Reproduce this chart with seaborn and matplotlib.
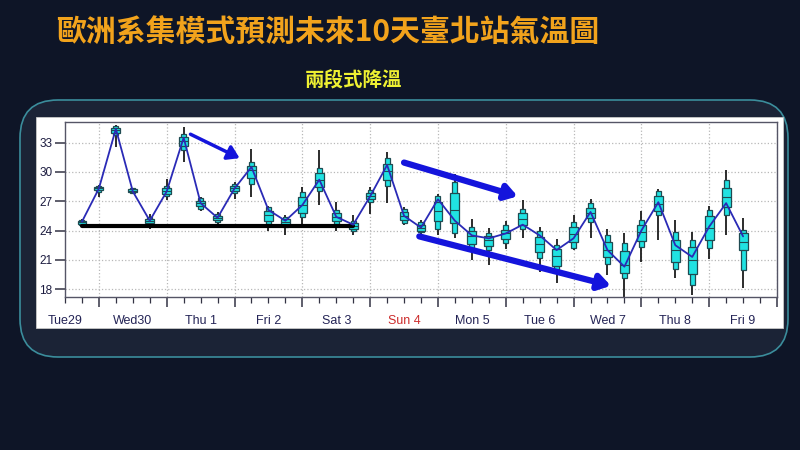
import numpy as np
import pandas as pd
import seaborn as sns
import matplotlib
matplotlib.use("Agg")
from matplotlib import pyplot as plt
from matplotlib.patches import FancyBboxPatch, Rectangle

# ensemble temperature forecast, one box every 6 hours (Tue29 18:00 .. Fri 9 12:00)
t_min = [24.5, 27.4, 32.5, 27.7, 24.2, 27.1, 31.0, 26.0, 24.7, 27.2,
         27.4, 24.0, 23.5, 24.5, 26.6, 24.0, 23.5, 25.7, 26.8, 24.6,
         23.5, 23.5, 23.2, 21.0, 20.5, 22.1, 23.2, 19.8, 18.6, 22.0,
         23.2, 19.4, 17.2, 20.8, 23.0, 19.1, 17.4, 21.1, 23.5, 18.1]
t_p10 = [24.6, 27.9, 33.8, 27.8, 24.7, 27.5, 32.2, 26.2, 24.9, 27.8,
         28.8, 24.7, 24.4, 25.4, 28.0, 24.7, 23.9, 26.9, 28.6, 24.8,
         23.8, 24.2, 23.7, 22.1, 22.0, 22.7, 24.2, 21.2, 19.8, 22.2,
         24.9, 20.6, 19.1, 22.3, 25.6, 20.1, 18.4, 22.2, 25.6, 20.0]
t_p25 = [24.7, 28.1, 34.0, 27.9, 24.8, 27.7, 32.6, 26.5, 25.1, 28.0,
         29.4, 25.0, 24.6, 25.8, 28.5, 25.0, 24.2, 27.2, 29.2, 25.1,
         24.0, 25.0, 24.8, 22.6, 22.4, 23.1, 24.6, 21.8, 20.4, 22.8,
         25.3, 21.3, 19.7, 22.9, 26.0, 20.8, 19.6, 23.0, 26.4, 22.0]
t_med = [24.9, 28.3, 34.3, 28.0, 25.0, 28.0, 33.2, 26.8, 25.3, 28.3,
         30.2, 25.6, 24.9, 26.6, 29.2, 25.4, 24.5, 27.5, 30.1, 25.5,
         24.3, 26.0, 26.1, 23.4, 23.0, 23.7, 25.2, 22.6, 21.4, 23.6,
         25.8, 22.0, 20.5, 23.8, 26.7, 22.0, 21.0, 24.3, 27.4, 22.8]
t_p75 = [25.0, 28.5, 34.5, 28.2, 25.2, 28.3, 33.6, 27.0, 25.5, 28.6,
         30.6, 26.0, 25.2, 27.4, 29.9, 25.8, 24.8, 27.8, 30.8, 25.9,
         24.6, 26.9, 27.8, 23.9, 23.4, 24.1, 25.8, 23.3, 22.1, 24.4,
         26.3, 22.8, 21.9, 24.6, 27.5, 23.0, 22.3, 25.5, 28.4, 23.7]
t_p90 = [25.1, 28.6, 34.7, 28.3, 25.4, 28.6, 33.9, 27.3, 25.7, 28.8,
         31.0, 26.4, 25.4, 27.9, 30.4, 26.1, 25.0, 28.1, 31.4, 26.2,
         24.9, 27.5, 29.0, 24.4, 23.7, 24.6, 26.2, 23.9, 22.5, 24.9,
         26.8, 23.5, 22.7, 25.1, 28.0, 23.8, 23.0, 26.1, 29.2, 24.1]
t_max = [25.2, 28.7, 34.8, 28.4, 25.7, 29.3, 34.6, 27.4, 25.9, 29.0,
         32.3, 26.5, 25.6, 28.5, 32.2, 26.9, 25.6, 28.5, 32.0, 26.4,
         25.1, 27.7, 29.8, 25.2, 24.3, 25.0, 27.1, 24.4, 23.1, 25.6,
         27.2, 24.2, 23.7, 26.0, 28.2, 25.1, 23.8, 26.5, 30.2, 25.3]
t_line = [24.9, 28.3, 34.4, 28.0, 25.0, 28.0, 33.5, 26.8, 25.3, 28.3,
          30.5, 26.1, 25.0, 26.6, 29.2, 25.4, 24.6, 27.5, 30.7, 25.5,
          24.3, 27.2, 25.0, 23.5, 23.2, 23.7, 24.6, 23.5, 22.0, 23.2,
          25.9, 22.0, 20.3, 24.0, 26.9, 22.5, 21.3, 24.4, 26.8, 23.4]

day_labels = ["Tue29", "Wed30", "Thu 1", "Fri 2", "Sat 3", "Sun 4",
              "Mon 5", "Tue 6", "Wed 7", "Thu 8", "Fri 9"]
y_ticks = [18, 21, 24, 27, 30, 33]

# flat "floor" of the first stage, and the three hand-drawn arrows
base_x = [0, 16]
base_y = [24.5, 24.5]
arrows = [((6.4, 33.85), (9.3, 31.4), 2.5),
          ((19.0, 30.95), (25.7, 27.5), 4.5),
          ((19.9, 23.4), (31.2, 18.35), 4.5)]

df = pd.DataFrame({"step": np.arange(len(t_line)), "temp": t_line})

sns.set_style("ticks")
plt.rcParams["font.family"] = ["Liberation Sans Narrow", "Liberation Sans", "DejaVu Sans"]

W, H = 800, 450
fig = plt.figure(figsize=(8, 4.5), dpi=100, facecolor="#0e1527")

# rounded frame + white panel (kept behind the axes)
fig.patches.append(FancyBboxPatch((0.20, 0.93), 7.68, 2.57,
                                  boxstyle="round,pad=0,rounding_size=0.38",
                                  transform=fig.dpi_scale_trans, zorder=-5,
                                  facecolor="#1b2336", edgecolor="#3b8d9c", lw=1.2))
fig.patches.append(Rectangle((36 / W, 1 - 328 / H), 747 / W, 211 / H,
                             transform=fig.transFigure, facecolor="white", zorder=-4,
                             edgecolor="#c8c8c8", lw=0.6))

fig.text(56 / W, 1 - 33 / H, "歐洲系集模式預測未來10天臺北站氣溫圖",
         color="#f2a31c", fontsize=21.5, va="center", ha="left", fontweight="bold",
         family=["Noto Sans CJK TC", "DejaVu Sans"])
fig.text(354 / W, 1 - 81 / H, "兩段式降溫", color="#eef032", fontsize=14,
         va="center", ha="center", fontweight="bold",
         family=["Noto Sans CJK TC", "DejaVu Sans"])

ax = fig.add_axes([65 / W, 1 - 297 / H, 712 / W, 175 / H])
ax.set_zorder(5)
ax.set_facecolor("white")

x = df["step"].to_numpy()
lo10, hi90 = np.array(t_p10), np.array(t_p90)
lo25, hi75 = np.array(t_p25), np.array(t_p75)

ax.vlines(x, t_min, t_max, color="#1b1b1b", lw=1.3, zorder=2)
ax.bar(x, hi90 - lo10, bottom=lo10, width=0.3, color="#20e2e2",
       edgecolor="#1f4b52", linewidth=0.9, zorder=3)
ax.bar(x, hi75 - lo25, bottom=lo25, width=0.52, color="#20e2e2",
       edgecolor="#1f4b52", linewidth=0.9, zorder=4)
ax.hlines(t_med, x - 0.26, x + 0.26, color="#1f4b52", lw=0.8, zorder=5)

sns.lineplot(x=base_x, y=base_y, ax=ax, color="black", lw=3, zorder=6)
sns.lineplot(data=df, x="step", y="temp", ax=ax, color="#2a2ab6", lw=1.3, zorder=7)

for start, end, w in arrows:
    ax.annotate("", xy=end, xytext=start, zorder=8,
                arrowprops=dict(arrowstyle="-|>,head_length=0.7,head_width=0.45",
                                color="#1414dc", lw=w, shrinkA=0, shrinkB=0))

ax.set_xlim(-1, 41)
ax.set_ylim(17.2, 35.1)
ax.set_yticks(y_ticks)
ax.set_xticks(np.arange(1, 42, 4))
ax.set_xticks(np.arange(-1, 42, 1), minor=True)
ax.set_xticklabels([])
ax.grid(True, which="major", color="#b8b8b8", ls=":", lw=0.9)
ax.set_xlabel("")
ax.set_ylabel("")
ax.tick_params(axis="y", length=7, width=1.1, color="#333344", labelsize=8.5,
               labelcolor="#1c1c40", pad=2)
ax.tick_params(axis="x", which="major", length=7, width=1.1, color="#333344")
ax.tick_params(axis="x", which="minor", length=4, width=0.9, color="#333344")
for s in ax.spines.values():
    s.set_color("#555566")
    s.set_linewidth(1.0)

for i, lab in enumerate(day_labels):
    ax.text(-1 + 4 * i, 17.2 - 2.45, lab, ha="center", va="center", fontsize=9,
            color="#cc2b2b" if lab == "Sun 4" else "#242456", clip_on=False)

plt.savefig("out.png", dpi=100, facecolor=fig.get_facecolor())
